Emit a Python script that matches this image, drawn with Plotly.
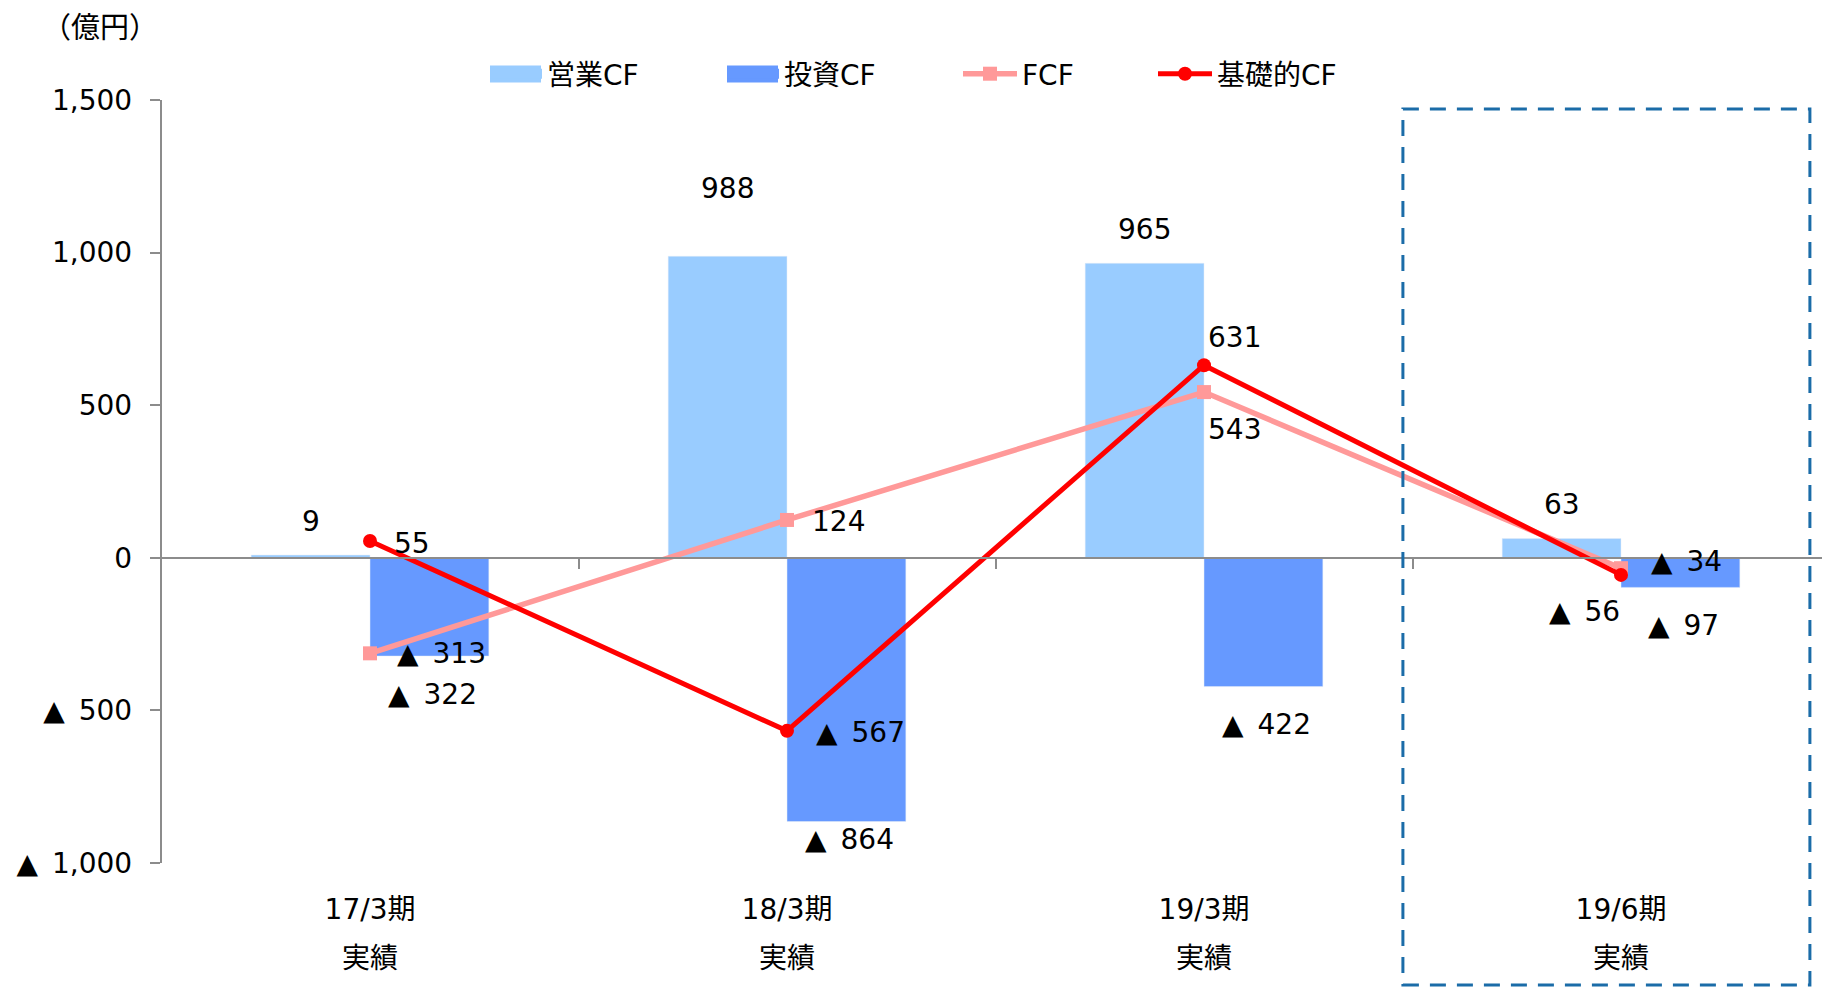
import plotly.graph_objects as go

# ---------------- data ----------------
categories = ["17/3期", "18/3期", "19/3期", "19/6期"]
period_notes = ["実績", "実績", "実績", "実績"]
operating_cf = [9, 988, 965, 63]
investing_cf = [-322, -864, -422, -97]
free_cf = [-313, 124, 543, -34]
basic_cf = [55, -567, 631, -56]
y_tick_values = [-1000, -500, 0, 500, 1000, 1500]
unit_label = "（億円）"
series_names = ["営業CF", "投資CF", "FCF", "基礎的CF"]
highlight_index = 3


def fmt(v):
    return f"▲\u2002{abs(v):,}" if v < 0 else f"{v:,}"


# ---------------- style / geometry ----------------
W, H = 1822, 988
FONT = "DejaVu Sans, Noto Sans CJK JP, sans-serif"
FS = 28
C_OP, C_INV, C_FCF, C_BASIC = "#99CCFF", "#6699FF", "#FF9999", "#FF0000"
AXIS_GRAY = "#8C8C8C"
BOX_BLUE = "#1B6CA8"

BAR_GAP = 0.43
HALF = (1 - BAR_GAP) / 4  # offset of each bar centre from category centre

PLOT_L, PLOT_T, PLOT_B = 161.5, 100, 863
PX_PER_CAT = 417
Y_RANGE = [-1000, 1500]

x_domain = [PLOT_L / W, 1.0]
x_range = [-0.5, -0.5 + (W - PLOT_L) / PX_PER_CAT]
y_domain = [(H - PLOT_B) / H, (H - PLOT_T) / H]
zero_pos = y_domain[0] + (y_domain[1] - y_domain[0]) * (0 - Y_RANGE[0]) / (Y_RANGE[1] - Y_RANGE[0])

xs = list(range(len(categories)))

# label offsets (px)
op_dy = [34, 68, 34, 34]
inv_dy = [-38, -18, -38, -38]
inv_dx = 3
fcf_style = [("left", 25, 0), ("left", 23, -2), ("left", 2, -37), ("left", 28, 7)]
basic_style = [("left", 22, -2), ("left", 27, -2), ("left", 2, 28), ("right", 1, -37)]

fig = go.Figure()

fig.add_trace(go.Bar(x=xs, y=operating_cf, name=series_names[0], marker_color=C_OP,
                     showlegend=False, hoverinfo="skip"))
fig.add_trace(go.Bar(x=xs, y=investing_cf, name=series_names[1], marker_color=C_INV,
                     showlegend=False, hoverinfo="skip"))
fig.add_trace(go.Scatter(x=xs, y=free_cf, name=series_names[2], mode="lines+markers",
                         line=dict(color=C_FCF, width=5.5),
                         marker=dict(symbol="square", size=14, color=C_FCF),
                         legend="legend3", hoverinfo="skip"))
fig.add_trace(go.Scatter(x=xs, y=basic_cf, name=series_names[3], mode="lines+markers",
                         line=dict(color=C_BASIC, width=5),
                         marker=dict(symbol="circle", size=14, color=C_BASIC),
                         legend="legend4", hoverinfo="skip"))
# legend entries for the bar series
fig.add_trace(go.Scatter(x=[None], y=[None], name=series_names[0], mode="lines",
                         line=dict(color=C_OP, width=17), legend="legend", hoverinfo="skip"))
fig.add_trace(go.Scatter(x=[None], y=[None], name=series_names[1], mode="lines",
                         line=dict(color=C_INV, width=17), legend="legend2", hoverinfo="skip"))
# carriers for the two category-label axes
fig.add_trace(go.Scatter(x=xs, y=[None] * len(xs), xaxis="x2", showlegend=False, hoverinfo="skip"))
fig.add_trace(go.Scatter(x=xs, y=[None] * len(xs), xaxis="x3", showlegend=False, hoverinfo="skip"))

ann = []
for i, v in enumerate(operating_cf):
    ann.append(dict(x=i - HALF, y=v, xref="x", yref="y", text=fmt(v), showarrow=False,
                    yshift=op_dy[i], xanchor="center", yanchor="middle"))
for i, v in enumerate(investing_cf):
    ann.append(dict(x=i + HALF, y=v, xref="x", yref="y", text=fmt(v), showarrow=False,
                    yshift=inv_dy[i], xshift=inv_dx, xanchor="center", yanchor="middle"))
for i, v in enumerate(free_cf):
    a, dx, dy = fcf_style[i]
    ann.append(dict(x=i, y=v, xref="x", yref="y", text=fmt(v), showarrow=False,
                    xshift=dx, yshift=dy, xanchor=a, yanchor="middle"))
for i, v in enumerate(basic_cf):
    a, dx, dy = basic_style[i]
    ann.append(dict(x=i, y=v, xref="x", yref="y", text=fmt(v), showarrow=False,
                    xshift=dx, yshift=dy, xanchor=a, yanchor="middle"))
ann.append(dict(x=100 / W, y=(H - 28) / H, xref="paper", yref="paper", text=unit_label,
                showarrow=False, xanchor="center", yanchor="middle",
                font=dict(family=FONT, size=29, color="black")))

LEGEND_Y_PX = 74
legend_y = (H - LEGEND_Y_PX) / H


def leg(x_px, iw):
    return dict(orientation="h", x=x_px / W, y=legend_y, xanchor="left", yanchor="middle",
                font=dict(family=FONT, size=FS, color="black"), itemwidth=iw,
                bgcolor="rgba(0,0,0,0)", borderwidth=0)


# wider swatch blocks behind the bar legend entries (plotly caps legend line width)
SWATCH_W, SWATCH_H = 51, 17
swatches = []
for left_px, col in [(490, C_OP), (727, C_INV)]:
    swatches.append(dict(type="rect", xref="paper", yref="paper", layer="above",
                         x0=left_px / W, x1=(left_px + SWATCH_W) / W,
                         y0=(H - LEGEND_Y_PX - SWATCH_H / 2) / H,
                         y1=(H - LEGEND_Y_PX + SWATCH_H / 2) / H,
                         line=dict(width=0), fillcolor=col))

axis_font = dict(family=FONT, size=FS, color="black")

fig.update_layout(
    width=W, height=H,
    margin=dict(l=0, r=0, t=0, b=0, pad=0, autoexpand=False),
    paper_bgcolor="white", plot_bgcolor="white",
    font=dict(family=FONT, size=FS, color="black"),
    barmode="group", bargap=BAR_GAP, bargroupgap=0,
    annotations=ann,
    legend=leg(485, 52), legend2=leg(722, 52), legend3=leg(958, 54), legend4=leg(1153, 54),
    xaxis=dict(domain=x_domain, range=x_range, anchor="free", position=zero_pos,
               showline=True, linecolor=AXIS_GRAY, linewidth=1.5, automargin=False,
               tickmode="array", tickvals=[i + 0.5 for i in xs], ticks="outside",
               ticklen=10, tickcolor=AXIS_GRAY, tickwidth=1.5, showticklabels=False,
               showgrid=False, zeroline=False, fixedrange=True),
    xaxis2=dict(overlaying="x", domain=x_domain, range=x_range, anchor="free", position=(H - 890) / H,
                tickmode="array", tickvals=xs, ticktext=categories, ticks="", automargin=False,
                showline=False, showgrid=False, zeroline=False, tickfont=axis_font),
    xaxis3=dict(overlaying="x", domain=x_domain, range=x_range, anchor="free", position=(H - 939) / H,
                tickmode="array", tickvals=xs, ticktext=period_notes, ticks="", automargin=False,
                showline=False, showgrid=False, zeroline=False, tickfont=axis_font),
    yaxis=dict(domain=y_domain, range=Y_RANGE, tickmode="array", tickvals=y_tick_values,
               ticktext=[fmt(v) for v in y_tick_values], ticks="outside", ticklen=10,
               tickcolor=AXIS_GRAY, tickwidth=1.5, showline=True, linecolor=AXIS_GRAY,
               linewidth=1.5, showgrid=False, zeroline=False, tickfont=axis_font,
               ticklabelstandoff=12, automargin=False),
    shapes=[dict(type="rect", xref="x", yref="paper",
                 x0=highlight_index - 0.523, x1=highlight_index + 0.453,
                 y0=3 / H, y1=(H - 109) / H,
                 line=dict(color=BOX_BLUE, width=3, dash="16px,11px"))] + swatches,
)

fig.write_html("out.html", config={"displayModeBar": False},
               post_script="document.body.style.margin='0';document.body.style.overflow='hidden';")
